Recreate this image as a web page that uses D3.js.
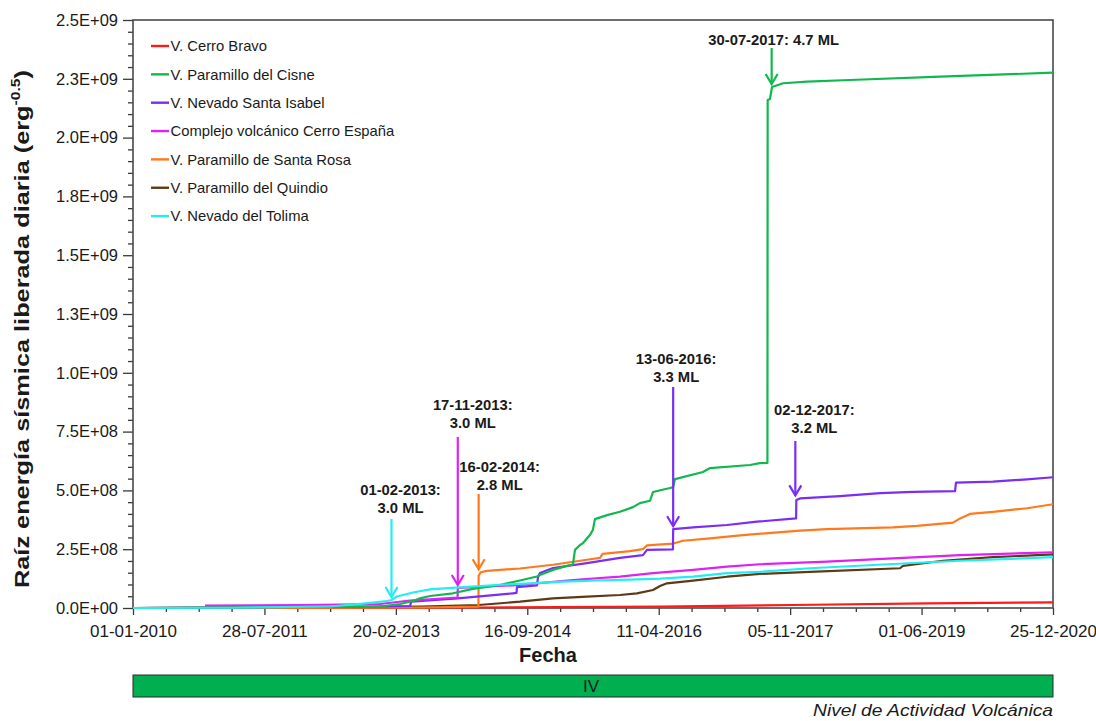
<!DOCTYPE html>
<html>
<head>
<meta charset="utf-8">
<script src="https://cdn.jsdelivr.net/npm/d3@7"></script>
<style>
  body { margin: 0; background: #fff; }
  svg { display: block; }
  text { font-family: "Liberation Sans", Arial, sans-serif; fill: #1a1a1a; }
</style>
</head>
<body>
<svg id="chart" width="1096" height="721"></svg>
<script>
// ---- Data ---------------------------------------------------------------
const seriesNames = [
  "V. Cerro Bravo",
  "V. Paramillo del Cisne",
  "V. Nevado Santa Isabel",
  "Complejo volcánico Cerro España",
  "V. Paramillo de Santa Rosa",
  "V. Paramillo del Quindio",
  "V. Nevado del Tolima"
];
const seriesColors = ["#ff1a1a", "#12b84f", "#7b2cf6", "#df22f2", "#ff7a1c", "#5e3a14", "#22eef2"];

// cumulative square root of released seismic energy, [date, value]
const cerroBravo = [
  ["2010-01-01", 0], ["2013-06-05", 1.0e6], ["2014-02-16", 2.1e6], ["2016-04-17", 5.5e6],
  ["2017-11-17", 1.28e7], ["2019-06-25", 2.0e7], ["2020-12-25", 2.4e7]
];
const paramilloCisne = [
  ["2010-01-01", 0], ["2012-12-13", 6.4e6], ["2013-03-10", 1.7e7], ["2013-05-06", 3.0e7],
  ["2013-06-05", 4.1e7], ["2013-07-19", 5.1e7], ["2013-10-27", 6.25e7], ["2014-01-22", 8.1e7],
  ["2014-05-20", 9.8e7], ["2014-08-15", 1.17e8], ["2014-10-28", 1.34e8], ["2014-11-10", 1.40e8],
  ["2015-01-06", 1.62e8], ["2015-03-08", 1.79e8], ["2015-04-03", 1.85e8], ["2015-04-12", 2.47e8],
  ["2015-05-04", 2.68e8], ["2015-05-17", 2.76e8], ["2015-06-16", 3.10e8], ["2015-06-29", 3.32e8],
  ["2015-07-08", 3.78e8], ["2015-08-30", 3.95e8], ["2015-10-25", 4.09e8], ["2015-12-21", 4.29e8],
  ["2016-01-20", 4.46e8], ["2016-03-04", 4.56e8], ["2016-03-17", 4.93e8], ["2016-05-30", 5.10e8],
  ["2016-06-13", 5.14e8], ["2016-06-21", 5.48e8], ["2016-10-21", 5.78e8], ["2016-11-21", 5.95e8],
  ["2017-05-14", 6.08e8], ["2017-06-26", 6.16e8], ["2017-07-29", 6.17e8], ["2017-07-30", 2.160e9],
  ["2017-08-09", 2.164e9], ["2017-08-18", 2.215e9], ["2017-10-05", 2.231e9], ["2018-01-18", 2.238e9],
  ["2018-07-24", 2.245e9], ["2019-08-20", 2.259e9], ["2020-12-25", 2.276e9]
];
const nevadoSantaIsabel = [
  ["2010-01-01", 0], ["2012-12-13", 6.4e6], ["2013-04-23", 8.5e6], ["2013-04-28", 2.7e7],
  ["2013-11-17", 4.1e7], ["2014-07-16", 6.25e7], ["2014-07-31", 6.4e7], ["2014-08-02", 8.9e7],
  ["2014-10-28", 9.6e7], ["2014-11-02", 1.32e8], ["2014-11-10", 1.49e8], ["2015-01-06", 1.70e8],
  ["2015-06-03", 1.91e8], ["2015-10-25", 2.13e8], ["2016-02-02", 2.25e8], ["2016-02-20", 2.47e8],
  ["2016-06-12", 2.49e8], ["2016-06-13", 3.35e8], ["2016-09-08", 3.43e8], ["2017-02-03", 3.53e8],
  ["2017-06-13", 3.67e8], ["2017-12-01", 3.81e8], ["2017-12-02", 4.59e8], ["2017-12-18", 4.66e8],
  ["2018-06-10", 4.76e8], ["2018-12-02", 4.88e8], ["2019-04-25", 4.94e8], ["2019-10-25", 4.97e8],
  ["2019-10-29", 5.33e8], ["2020-04-07", 5.37e8], ["2020-09-03", 5.47e8], ["2020-12-25", 5.56e8]
];
const cerroEspana = [
  ["2010-11-11", 1.06e7], ["2011-12-30", 1.28e7], ["2012-12-13", 1.7e7], ["2013-04-23", 3.2e7],
  ["2013-11-16", 4.46e7], ["2013-11-17", 8.5e7], ["2014-03-24", 9.14e7], ["2014-08-15", 9.78e7],
  ["2014-10-28", 1.05e8], ["2015-04-03", 1.19e8], ["2015-10-25", 1.33e8], ["2016-03-17", 1.48e8],
  ["2016-09-08", 1.62e8], ["2017-02-03", 1.76e8], ["2017-06-26", 1.86e8], ["2018-04-15", 1.97e8],
  ["2019-01-27", 2.11e8], ["2019-11-16", 2.25e8], ["2020-12-25", 2.37e8]
];
const santaRosa = [
  ["2010-01-01", 0], ["2013-06-05", 2.1e6], ["2014-02-15", 5.5e6], ["2014-02-16", 1.38e8],
  ["2014-02-25", 1.52e8], ["2014-03-24", 1.58e8], ["2014-08-15", 1.68e8], ["2015-01-06", 1.84e8],
  ["2015-06-03", 2.05e8], ["2015-07-30", 2.13e8], ["2015-08-10", 2.30e8], ["2015-12-08", 2.42e8],
  ["2016-02-02", 2.50e8], ["2016-02-20", 2.66e8], ["2016-06-13", 2.74e8], ["2016-07-26", 2.86e8],
  ["2016-11-21", 2.96e8], ["2017-04-13", 3.10e8], ["2017-12-18", 3.29e8], ["2018-04-15", 3.35e8],
  ["2019-01-27", 3.43e8], ["2019-05-12", 3.49e8], ["2019-10-16", 3.63e8], ["2019-11-16", 3.81e8],
  ["2019-12-29", 4.00e8], ["2020-04-07", 4.09e8], ["2020-09-03", 4.24e8], ["2020-12-25", 4.41e8]
];
const paramilloQuindio = [
  ["2010-01-01", 0], ["2011-05-26", 1.3e6], ["2013-06-05", 6.4e6], ["2014-02-16", 1.28e7],
  ["2014-08-15", 2.68e7], ["2015-01-06", 4.12e7], ["2015-06-03", 4.8e7], ["2015-10-25", 5.53e7],
  ["2016-01-07", 6.25e7], ["2016-03-17", 7.65e7], ["2016-04-17", 9.35e7], ["2016-05-17", 1.05e8],
  ["2016-09-08", 1.16e8], ["2017-02-03", 1.33e8], ["2017-06-26", 1.45e8], ["2018-01-31", 1.54e8],
  ["2019-02-27", 1.69e8], ["2019-03-12", 1.79e8], ["2019-09-02", 2.01e8], ["2020-04-07", 2.16e8],
  ["2020-12-25", 2.28e8]
];
const nevadoTolima = [
  ["2010-01-01", 0], ["2011-02-27", 1.0e6], ["2012-05-09", 6.4e6], ["2012-09-30", 1.9e7],
  ["2013-01-12", 2.98e7], ["2013-02-01", 3.4e7], ["2013-02-25", 4.9e7], ["2013-05-06", 6.6e7],
  ["2013-07-19", 7.9e7], ["2013-12-10", 8.9e7], ["2014-05-07", 9.78e7], ["2014-09-28", 1.05e8],
  ["2015-02-19", 1.12e8], ["2015-07-17", 1.17e8], ["2015-12-08", 1.21e8], ["2016-04-17", 1.25e8],
  ["2016-09-08", 1.33e8], ["2017-02-03", 1.48e8], ["2017-06-26", 1.54e8], ["2018-01-31", 1.69e8],
  ["2019-01-27", 1.87e8], ["2019-11-16", 2.01e8], ["2020-12-25", 2.16e8]
];
const seriesData = [cerroBravo, paramilloCisne, nevadoSantaIsabel, cerroEspana,
                    santaRosa, paramilloQuindio, nevadoTolima];

// axis ticks
const yTickValues = [0, 2.5e8, 5e8, 7.5e8, 1e9, 1.25e9, 1.5e9, 1.75e9, 2e9, 2.25e9, 2.5e9];
const yTickLabels = ["0.0E+00", "2.5E+08", "5.0E+08", "7.5E+08", "1.0E+09", "1.3E+09",
                     "1.5E+09", "1.8E+09", "2.0E+09", "2.3E+09", "2.5E+09"];
const xTickLabels = ["01-01-2010", "28-07-2011", "20-02-2013", "16-09-2014",
                     "11-04-2016", "05-11-2017", "01-06-2019", "25-12-2020"];

// largest events
const eventDates  = ["2013-02-01", "2013-11-17", "2014-02-16", "2016-06-13", "2017-12-02", "2017-07-30"];
const eventSeries = [6, 3, 4, 2, 2, 1];
const eventLabels = [
  ["01-02-2013:", "3.0 ML"], ["17-11-2013:", "3.0 ML"], ["16-02-2014:", "2.8 ML"],
  ["13-06-2016:", "3.3 ML"], ["02-12-2017:", "3.2 ML"], ["30-07-2017: 4.7 ML"]
];
const activityLevel = "IV";

// ---- Layout -------------------------------------------------------------
const svg = d3.select("#chart");
const plot = { left: 133, right: 1053, top: 20, bottom: 608 };
const parseISO = d3.utcParse("%Y-%m-%d");
const parseDMY = d3.utcParse("%d-%m-%Y");

const xMajor = xTickLabels.map(parseDMY);
const x = d3.scaleUtc()
  .domain([xMajor[0], xMajor[xMajor.length - 1]])
  .range([plot.left, plot.right]);
const y = d3.scaleLinear().domain([0, 2.5e9]).range([plot.bottom, plot.top]);

svg.append("rect").attr("width", 1096).attr("height", 721).attr("fill", "#fff");

// minor ticks: four divisions per major interval
const xMinor = [];
for (let i = 0; i < xMajor.length - 1; i++) {
  const a = +xMajor[i], b = +xMajor[i + 1];
  for (let k = 1; k < 4; k++) xMinor.push(new Date(a + (b - a) * k / 4));
}
const yMinor = d3.range(0, 2.5e9 + 1, 5e7).filter(v => !yTickValues.includes(v));

const axisColor = "#3a3a3a";

svg.append("g")
  .attr("transform", `translate(0,${plot.bottom})`)
  .call(d3.axisBottom(x).tickValues(xMinor).tickSize(4).tickFormat(""))
  .call(g => g.select(".domain").remove())
  .call(g => g.selectAll("line").attr("stroke", axisColor).attr("stroke-width", 1.3));

svg.append("g")
  .attr("transform", `translate(0,${plot.bottom})`)
  .call(d3.axisBottom(x).tickValues(xMajor).tickSize(7).tickPadding(10)
    .tickFormat((d, i) => xTickLabels[i]))
  .call(g => g.select(".domain").remove())
  .call(g => g.selectAll("line").attr("stroke", axisColor).attr("stroke-width", 1.3))
  .call(g => g.selectAll("text").attr("font-size", 17).attr("fill", "#1a1a1a")
    .attr("font-family", "'Liberation Sans', Arial, sans-serif"));

svg.append("g")
  .attr("transform", `translate(${plot.left},0)`)
  .call(d3.axisLeft(y).tickValues(yMinor).tickSize(5).tickFormat(""))
  .call(g => g.select(".domain").remove())
  .call(g => g.selectAll("line").attr("stroke", axisColor).attr("stroke-width", 1.3));

svg.append("g")
  .attr("transform", `translate(${plot.left},0)`)
  .call(d3.axisLeft(y).tickValues(yTickValues).tickSize(10).tickPadding(5)
    .tickFormat((d, i) => yTickLabels[i]))
  .call(g => g.select(".domain").remove())
  .call(g => g.selectAll("line").attr("stroke", axisColor).attr("stroke-width", 1.3))
  .call(g => g.selectAll("text").attr("font-size", 16.5).attr("fill", "#1a1a1a")
    .attr("font-family", "'Liberation Sans', Arial, sans-serif"));

// plot frame
svg.append("rect")
  .attr("x", plot.left).attr("y", plot.top)
  .attr("width", plot.right - plot.left).attr("height", plot.bottom - plot.top)
  .attr("fill", "none").attr("stroke", "#4a4a4a").attr("stroke-width", 1.6);

// ---- Series lines ----------------------------------------------------------
const line = d3.line().x(d => x(parseISO(d[0]))).y(d => y(d[1]));
const drawOrder = [0, 5, 4, 2, 3, 1, 6];
svg.append("g").selectAll("path")
  .data(drawOrder)
  .join("path")
  .attr("d", i => line(seriesData[i]))
  .attr("fill", "none")
  .attr("stroke", i => seriesColors[i])
  .attr("stroke-width", 2.2)
  .attr("stroke-linejoin", "round");

// ---- Legend ----------------------------------------------------------------
const legend = svg.append("g").attr("transform", "translate(151,46)");
seriesNames.forEach((name, i) => {
  const row = legend.append("g").attr("transform", `translate(0,${i * 28.35})`);
  row.append("line").attr("x1", 0).attr("x2", 18).attr("y1", 0).attr("y2", 0)
    .attr("stroke", seriesColors[i]).attr("stroke-width", 2.4);
  row.append("text").attr("x", 19.5).attr("y", 5.3).attr("font-size", 14.8).text(name);
});

// ---- Event annotations -----------------------------------------------------
// text offset from the arrow, baseline of first line, arrow start (pixels)
const eventLayout = [
  { dx: 9,  textY: 495, arrowTop: 519, shift: 0 },
  { dx: 15, textY: 410, arrowTop: 437, shift: 0 },
  { dx: 21, textY: 472, arrowTop: 494, shift: 0 },
  { dx: 3,  textY: 364, arrowTop: 387, shift: 0 },
  { dx: 19, textY: 415, arrowTop: 441, shift: -1 },
  { dx: 2,  textY: 45,  arrowTop: 48,  shift: 4 }
];
const ann = svg.append("g");
eventDates.forEach((ds, i) => {
  const d = parseISO(ds);
  const s = seriesData[eventSeries[i]];
  const lay = eventLayout[i];
  const color = seriesColors[eventSeries[i]];
  // highest value reached by the series shortly after the event
  const limit = +d + 20 * 864e5;
  const after = s.filter(p => +parseISO(p[0]) >= +d && +parseISO(p[0]) <= limit).map(p => p[1]);
  const tipY = y(d3.max(after)) - 3;
  const ax = x(d) + lay.shift;
  ann.append("line").attr("x1", ax).attr("x2", ax).attr("y1", lay.arrowTop).attr("y2", tipY)
    .attr("stroke", color).attr("stroke-width", 2.2);
  ann.append("path")
    .attr("d", `M${ax - 6},${tipY - 10} L${ax},${tipY} L${ax + 6},${tipY - 10}`)
    .attr("fill", "none").attr("stroke", color).attr("stroke-width", 2.2)
    .attr("stroke-linejoin", "miter");
  const t = ann.append("text").attr("text-anchor", "middle").attr("font-weight", "bold")
    .attr("font-size", 14.8);
  eventLabels[i].forEach((str, k) => {
    t.append("tspan").attr("x", ax + lay.dx).attr("y", lay.textY + k * 17.5).text(str);
  });
});

// ---- Axis titles -------------------------------------------------------------
const yTitle = svg.append("text")
  .attr("transform", "translate(29,329) rotate(-90)")
  .attr("text-anchor", "middle").attr("font-weight", "bold").attr("font-size", 21)
  .attr("textLength", 518).attr("lengthAdjust", "spacingAndGlyphs");
yTitle.append("tspan").text("Raíz energía sísmica liberada diaria (erg");
yTitle.append("tspan").attr("font-size", 13).attr("dy", -9).text("-0.5");
yTitle.append("tspan").attr("dy", 9).text(")");

svg.append("text")
  .attr("x", 548).attr("y", 662)
  .attr("text-anchor", "middle").attr("font-weight", "bold").attr("font-size", 20)
  .text("Fecha");

// ---- Volcanic activity level bar ----------------------------------------------
svg.append("rect")
  .attr("x", plot.left).attr("y", 675)
  .attr("width", plot.right - plot.left).attr("height", 22)
  .attr("fill", "#00b050").attr("stroke", "#2b2b2b").attr("stroke-width", 1);
svg.append("text")
  .attr("x", 591).attr("y", 692)
  .attr("text-anchor", "middle").attr("font-size", 17).text(activityLevel);
svg.append("text")
  .attr("x", plot.right).attr("y", 716)
  .attr("text-anchor", "end").attr("font-style", "italic").attr("font-size", 17)
  .attr("textLength", 240).attr("lengthAdjust", "spacingAndGlyphs")
  .text("Nivel de Actividad Volcánica");
</script>
</body>
</html>
